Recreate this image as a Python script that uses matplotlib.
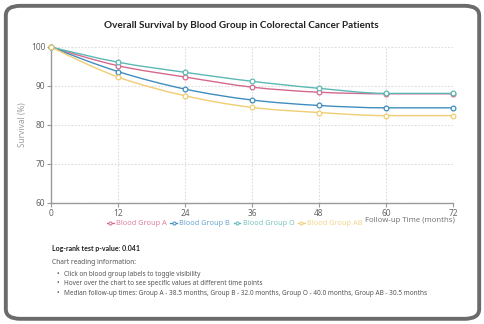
import numpy as np
import matplotlib.pyplot as plt
from matplotlib.patches import FancyBboxPatch, PathPatch
from matplotlib.path import Path
from matplotlib.lines import Line2D

plt.rcParams['font.family'] = ['Noto Sans', 'DejaVu Sans']

months = [0, 12, 24, 36, 48, 60, 72]
group_names = ['Blood Group A', 'Blood Group B', 'Blood Group O', 'Blood Group AB']
surv_a = [100, 95.2, 92.3, 89.7, 88.4, 88.0, 88.0]
surv_b = [100, 93.7, 89.2, 86.4, 85.0, 84.4, 84.4]
surv_o = [100, 96.1, 93.5, 91.2, 89.4, 88.1, 88.1]
surv_ab = [100, 92.3, 87.5, 84.5, 83.2, 82.4, 82.4]
line_colors = ['#d5688e', '#3f8dbf', '#5cb8b5', '#f0cd72']
text_colors = ['#e07fa3', '#6aa6cf', '#7cc4c0', '#f3d58e']

p_value = '0.041'
notes = [
    'Click on blood group labels to toggle visibility',
    'Hover over the chart to see specific values at different time points',
    'Median follow-up times: Group A - 38.5 months, Group B - 32.0 months, '
    'Group O - 40.0 months, Group AB - 30.5 months',
]


def monotone_path(x, y):
    # cubic bezier segments with monotone-x tangents
    x = np.asarray(x, float)
    y = np.asarray(y, float)
    h = np.diff(x)
    s = np.diff(y) / h
    t = np.zeros(len(x))
    for i in range(1, len(x) - 1):
        p = (s[i - 1] * h[i] + s[i] * h[i - 1]) / (h[i - 1] + h[i])
        t[i] = (np.sign(s[i - 1]) + np.sign(s[i])) * min(abs(s[i - 1]), abs(s[i]), 0.5 * abs(p))
    t[0] = (3 * s[0] - t[1]) / 2
    t[-1] = (3 * s[-1] - t[-2]) / 2
    verts = [(x[0], y[0])]
    codes = [Path.MOVETO]
    for i in range(len(x) - 1):
        dx = h[i] / 3
        verts += [(x[i] + dx, y[i] + dx * t[i]),
                  (x[i + 1] - dx, y[i + 1] - dx * t[i + 1]),
                  (x[i + 1], y[i + 1])]
        codes += [Path.CURVE4] * 3
    return Path(verts, codes)


fig = plt.figure(figsize=(4.85, 3.24), dpi=100)

# card frame
fig.patches.append(FancyBboxPatch((0.012, 0.016), 0.976, 0.966,
                                  boxstyle='round,pad=0,rounding_size=0.03',
                                  transform=fig.transFigure, facecolor='white',
                                  edgecolor='#6b6b6b', linewidth=2.8, zorder=-5))

ax = fig.add_axes([0.1052, 0.3735, 0.829, 0.4815])
ax.set_facecolor('none')
ax.set_xlim(0, 72)
ax.set_ylim(60, 100)
ax.set_xticks(months)
ax.set_yticks([60, 70, 80, 90, 100])
ax.grid(True, color='#dcdcdc', linestyle=(0, (1.5, 1.5)), linewidth=0.8)
for side in ['top', 'right']:
    ax.spines[side].set_visible(False)
for side in ['left', 'bottom']:
    ax.spines[side].set_color('#9a9a9a')
    ax.spines[side].set_linewidth(1.0)
ax.tick_params(colors='#9a9a9a', labelcolor='#666666', labelsize=6, length=3, width=0.8, pad=1.0)

series = [surv_a, surv_b, surv_o, surv_ab]
handles = []
for name, vals, col in zip(group_names, series, line_colors):
    ax.add_patch(PathPatch(monotone_path(months, vals), facecolor='none',
                           edgecolor=col, linewidth=1.0, zorder=3, clip_on=False))
    ax.plot(months, vals, linestyle='none', marker='o', markersize=3.4,
            markerfacecolor='white', markeredgecolor=col, markeredgewidth=0.9,
            zorder=4, clip_on=False)
    handles.append(Line2D([], [], color=col, linewidth=0.9, marker='o', markersize=2.2,
                          markerfacecolor='white', markeredgewidth=0.7, label=name))

leg = ax.legend(handles=handles, loc='upper center', bbox_to_anchor=(0.457, -0.09),
                ncol=4, frameon=False, fontsize=5.3, handlelength=0.9, handletextpad=0.3,
                columnspacing=0.5, borderaxespad=0)
for txt, col in zip(leg.get_texts(), text_colors):
    txt.set_color(col)

ax.set_ylabel('Survival (%)', fontsize=6, color='#a0a0a0', labelpad=3)
fig.text(455 / 485, 1 - 220.5 / 324, 'Follow-up Time (months)', ha='right', va='center',
         fontsize=5.6, color='#777777')

fig.text(0.497, 1 - 25 / 324, 'Overall Survival by Blood Group in Colorectal Cancer Patients',
         ha='center', va='center', fontsize=7.2, fontweight='bold', color='#222222',
         family='Lato')

fig.text(52 / 485, 1 - 248 / 324, 'Log-rank test p-value: ' + p_value, ha='left', va='center',
         fontsize=5, fontweight='bold', color='#222222', family='Lato')
fig.text(52 / 485, 1 - 262 / 324, 'Chart reading information:', ha='left', va='center',
         fontsize=4.8, color='#555555')
for i, note in enumerate(notes):
    y = 1 - (274 + 9.7 * i) / 324
    fig.text(57 / 485, y, '\u2022', ha='left', va='center', fontsize=4.8, color='#555555')
    fig.text(64 / 485, y, note, ha='left', va='center', fontsize=4.65, color='#555555')

fig.savefig('out.png', dpi=100)
